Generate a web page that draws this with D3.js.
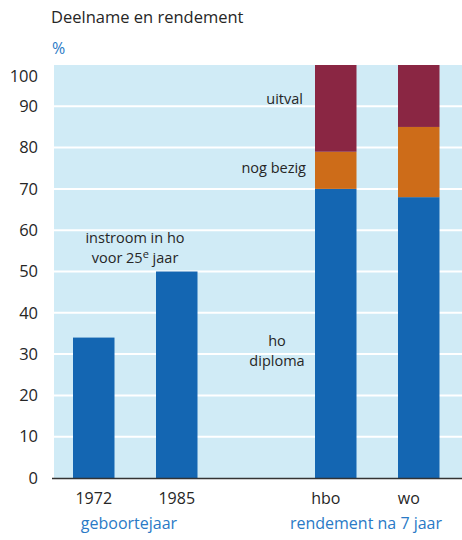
<!DOCTYPE html>
<html>
<head>
<meta charset="utf-8">
<script src="https://cdn.jsdelivr.net/npm/d3@7"></script>
<style>
  body { margin: 0; background: #fff; }
  text { font-family: "Open Sans", "Noto Sans", sans-serif; }
</style>
</head>
<body>
<div id="chart"></div>
<script>
// data
var birthYears = ["1972", "1985"];
var instroom = [34, 50];               // instroom in ho voor 25e jaar
var studyTypes = ["hbo", "wo"];
var diploma = [70, 68];
var nogBezig = [9, 17];
var uitval = [21, 15];
var yTicks = [0, 10, 20, 30, 40, 50, 60, 70, 80, 90, 100];

var width = 462, height = 540;
var margin = {top: 65, right: 0, bottom: 62, left: 54};
var plotH = height - margin.top - margin.bottom; // 413

var svg = d3.select("#chart").append("svg")
  .attr("width", width)
  .attr("height", height);

var y = d3.scaleLinear().domain([0, 100]).range([margin.top + plotH, margin.top]);

// two groups with their own band scales
var xLeft = d3.scaleBand().domain(birthYears)
  .range([52.25, 218.25]).paddingInner(0.5).paddingOuter(0.25);
var xRight = d3.scaleBand().domain(studyTypes)
  .range([294.25, 460.25]).paddingInner(0.5).paddingOuter(0.25);

var colBlue = "#1466b2", colOrange = "#cd6c19", colRed = "#8a2643";
var txtDark = "#262626", txtBlue = "#2a7ac6";

// background
svg.append("rect")
  .attr("x", margin.left).attr("y", y(100))
  .attr("width", width - margin.left).attr("height", y(0) - y(100))
  .attr("fill", "#d0ebf6");

// gridlines
svg.append("g").selectAll("line")
  .data(yTicks.filter(d => d > 0 && d < 100))
  .enter().append("line")
    .attr("x1", margin.left).attr("x2", width)
    .attr("y1", d => y(d)).attr("y2", d => y(d))
    .attr("stroke", "#fff").attr("stroke-width", 2);

// y tick labels
svg.append("g").selectAll("text")
  .data(yTicks)
  .enter().append("text")
    .attr("x", 38)
    .attr("y", d => y(d) + (d == 100 ? 11 : 0))
    .attr("dy", "0.35em")
    .attr("text-anchor", "end")
    .attr("font-size", 16.5)
    .attr("fill", txtDark)
    .text(d => d);

// left bars
svg.append("g").selectAll("rect")
  .data(birthYears)
  .enter().append("rect")
    .attr("x", d => xLeft(d))
    .attr("width", xLeft.bandwidth())
    .attr("y", (d, i) => y(instroom[i]))
    .attr("height", (d, i) => y(0) - y(instroom[i]))
    .attr("fill", colBlue);

// right stacked bars
var stackRows = studyTypes.map((t, i) => ({type: t, diploma: diploma[i], bezig: nogBezig[i], uitval: uitval[i]}));
var series = d3.stack().keys(["diploma", "bezig", "uitval"])(stackRows);
var colors = {diploma: colBlue, bezig: colOrange, uitval: colRed};

svg.append("g").selectAll("g")
  .data(series)
  .enter().append("g")
    .attr("fill", d => colors[d.key])
  .selectAll("rect")
  .data(d => d)
  .enter().append("rect")
    .attr("x", d => xRight(d.data.type))
    .attr("width", xRight.bandwidth())
    .attr("y", d => y(d[1]))
    .attr("height", d => y(d[0]) - y(d[1]));

// baseline
svg.append("line")
  .attr("x1", 52).attr("x2", width)
  .attr("y1", y(0) + 0.5).attr("y2", y(0) + 0.5)
  .attr("stroke", "#333").attr("stroke-width", 1.5);

// x labels
svg.append("g").selectAll("text")
  .data(birthYears)
  .enter().append("text")
    .attr("x", d => xLeft(d) + xLeft.bandwidth() / 2)
    .attr("y", 504)
    .attr("text-anchor", "middle")
    .attr("font-size", 16)
    .attr("fill", txtDark)
    .text(d => d);

svg.append("g").selectAll("text")
  .data(studyTypes)
  .enter().append("text")
    .attr("x", d => xRight(d) + xRight.bandwidth() / 2 - 10)
    .attr("y", 504)
    .attr("text-anchor", "middle")
    .attr("font-size", 16)
    .attr("fill", txtDark)
    .text(d => d);

// group titles
svg.append("text")
  .attr("x", 129).attr("y", 529)
  .attr("text-anchor", "middle").attr("font-size", 16)
  .attr("fill", txtBlue).text("geboortejaar");
svg.append("text")
  .attr("x", 366).attr("y", 529)
  .attr("text-anchor", "middle").attr("font-size", 16)
  .attr("fill", txtBlue).text("rendement na 7 jaar");

// title and unit
svg.append("text")
  .attr("x", 51).attr("y", 23)
  .attr("font-size", 16.5).attr("fill", txtDark)
  .text("Deelname en rendement");
svg.append("text")
  .attr("x", 52).attr("y", 54)
  .attr("font-size", 16).attr("fill", txtBlue)
  .text("%");

// annotations
var ann = svg.append("g").attr("font-size", 14.5).attr("fill", txtDark);
ann.append("text").attr("x", 303).attr("y", 104).attr("text-anchor", "end").text("uitval");
ann.append("text").attr("x", 306).attr("y", 173).attr("text-anchor", "end").text("nog bezig");
ann.append("text").attr("x", 277).attr("y", 346).attr("text-anchor", "middle").text("ho");
ann.append("text").attr("x", 277).attr("y", 366).attr("text-anchor", "middle").text("diploma");

ann.append("text").attr("x", 135).attr("y", 243).attr("text-anchor", "middle").text("instroom in ho");
var t2 = ann.append("text").attr("x", 135).attr("y", 263).attr("text-anchor", "middle");
t2.append("tspan").text("voor 25");
t2.append("tspan").attr("dy", -5).attr("font-size", 11).text("e");
t2.append("tspan").attr("dy", 5).text(" jaar");
</script>
</body>
</html>
